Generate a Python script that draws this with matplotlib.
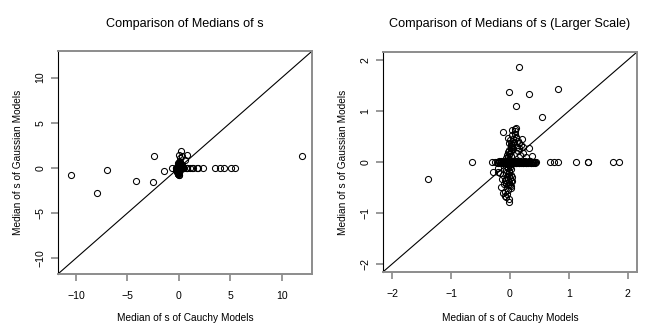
import matplotlib
matplotlib.use("Agg")
import matplotlib.pyplot as plt

plt.rcParams['font.family'] = ['Liberation Sans', 'DejaVu Sans']

# outlying models (median of s: cauchy vs gaussian)
out_cauchy = [-10.5, -7.95, -7.0, -4.15, -2.45, -2.5, -1.4, -0.65, -0.31, -0.26, 12.0,
              5.45, 5.1, 4.4, 3.95, 3.55, 2.35, 1.85, 1.76, 1.33, 1.32, 1.12, 0.82, 0.75, 0.68,
              0.16, -0.02, 0.32, 0.81, 0.10, 0.55]
out_gauss = [-0.81, -2.8, -0.22, -1.4, 1.37, -1.52, -0.33, 0.0, 0.0, 0.0, 1.35,
             0.0, 0.0, 0.0, 0.0, 0.0, 0.0, 0.01, 0.01, 0.0, 0.01, 0.0, 0.0, 0.0, 0.0,
             1.87, 1.38, 1.33, 1.43, 1.10, 0.88]

# scattered models near the centre, upper part
up_cauchy = [-0.11, 0.09, 0.10, -0.04, 0.06, 0.11, 0.20, 0.03, 0.16, 0.23, 0.32, 0.37,
             0.23, 0.17, 0.43, 0.07, 0.12, 0.02, 0.14, 0.28, 0.05, 0.09, 0.00, 0.04,
             0.08, 0.13, 0.06, 0.10, 0.15, -0.02, 0.19, 0.04]
up_gauss = [0.58, 0.65, 0.66, 0.48, 0.46, 0.48, 0.45, 0.53, 0.37, 0.30, 0.28, 0.12,
            0.18, 0.13, 0.01, 0.40, 0.30, 0.35, 0.22, 0.10, 0.25, 0.55, 0.43, 0.33,
            0.60, 0.42, 0.38, 0.50, 0.27, 0.38, 0.33, 0.62]

# scattered models near the centre, lower part
lo_cauchy = [-0.28, -0.21, -0.20, -0.15, -0.11, -0.09, -0.06, -0.02, -0.01, -0.04,
             -0.09, -0.13, 0.00, 0.03, -0.17, -0.07, 0.02, -0.05, -0.12, 0.04,
             -0.08, 0.01, -0.10]
lo_gauss = [-0.19, -0.19, -0.12, -0.50, -0.61, -0.66, -0.68, -0.73, -0.78, -0.55,
            -0.35, -0.34, -0.45, -0.30, -0.22, -0.42, -0.52, -0.62, -0.25, -0.38,
            -0.58, -0.48, -0.44]

# models with gaussian median close to zero
h_cauchy = [-0.22, -0.20, -0.18, -0.16, -0.14, -0.12, -0.10, -0.08, -0.06, -0.05,
            -0.04, -0.03, -0.02, -0.01, 0.00, 0.01, 0.02, 0.03, 0.04, 0.05,
            0.06, 0.08, 0.10, 0.12, 0.14, 0.16, 0.18, 0.20, 0.22, 0.24,
            0.26, 0.28, 0.30, 0.32, 0.34, 0.36, 0.38, 0.40, 0.42, 0.44,
            -0.21, -0.19, -0.17, -0.15, -0.13, -0.11, -0.09, -0.07, 0.07, 0.09,
            0.11, 0.13, 0.15, 0.17, 0.19, 0.21, 0.23, 0.25, 0.27, 0.29,
            0.31, 0.33, 0.35, 0.37, 0.39, 0.41]
h_gauss = [0.01, -0.01, 0.00, 0.02, -0.02, 0.01, 0.00, -0.01, 0.02, 0.00,
           -0.02, 0.01, 0.03, -0.01, 0.00, 0.02, -0.03, 0.01, 0.00, -0.02,
           0.01, 0.00, -0.01, 0.02, 0.00, -0.02, 0.01, 0.00, -0.01, 0.02,
           0.00, -0.01, 0.01, 0.00, 0.02, -0.01, 0.00, 0.01, -0.01, 0.00,
           -0.02, 0.02, -0.01, 0.01, -0.02, 0.02, -0.01, 0.01, -0.02, 0.02,
           -0.01, 0.01, -0.02, 0.02, -0.01, 0.01, -0.02, 0.02, -0.01, 0.01,
           -0.02, 0.02, -0.01, 0.01, -0.02, 0.01]

# models with cauchy median close to zero
v_cauchy = [-0.03, -0.01, -0.06, -0.02, 0.01, -0.07, -0.03, 0.00, -0.05, -0.02,
            0.02, -0.04, -0.07, -0.01, -0.02, -0.06, 0.01, -0.03, 0.00, -0.07,
            -0.02, -0.05, 0.02, -0.04, -0.01, -0.02, -0.06, -0.03, 0.01, -0.05,
            -0.02, 0.00, -0.03, 0.02, -0.01, 0.03, 0.01, 0.04, 0.02]
v_gauss = [-0.45, -0.43, -0.41, -0.39, -0.37, -0.35, -0.33, -0.31, -0.29, -0.27,
           -0.25, -0.23, -0.21, -0.19, -0.17, -0.15, -0.13, -0.11, -0.09, -0.07,
           -0.05, -0.03, -0.01, 0.01, 0.03, 0.05, 0.07, 0.09, 0.11, 0.13,
           0.15, 0.17, 0.19, 0.21, 0.23, 0.25, 0.27, 0.29, 0.31]

cauchy = out_cauchy + up_cauchy + lo_cauchy + h_cauchy + v_cauchy
gauss = out_gauss + up_gauss + lo_gauss + h_gauss + v_gauss

fig = plt.figure(figsize=(6.5, 3.25), dpi=100)
ax1 = fig.add_axes([0.0892, 0.157, 0.391, 0.686])
ax2 = fig.add_axes([0.589, 0.163, 0.391, 0.677])

panels = [
    (ax1, (-11.75, 12.95), [-10, -5, 0, 5, 10], "Comparison of Medians of s", 0.028),
    (ax2, (-2.16, 2.16), [-2, -1, 0, 1, 2], "Comparison of Medians of s (Larger Scale)", 0.527),
]

for ax, lim, ticks, title, ylab_x in panels:
    ax.plot(cauchy, gauss, 'o', mfc='none', mec='black', ms=4.4, mew=0.75)
    ax.axline((0, 0), slope=1, color='black', lw=0.8)
    ax.set_xlim(lim)
    ax.set_ylim(lim)
    ax.set_xticks(ticks)
    ax.set_yticks(ticks)
    ax.tick_params(colors='#888888', labelcolor='black', length=5, width=1.2,
                   labelsize=7.6)
    ax.tick_params(axis='x', pad=7)
    ax.tick_params(axis='y', labelrotation=90, pad=4)
    for lab in ax.get_yticklabels():
        lab.set_va('center')
    for side in ['top', 'right', 'bottom']:
        ax.spines[side].set_color('#8c8c8c')
        ax.spines[side].set_linewidth(1.4)
    ax.spines['left'].set_color('black')
    ax.spines['left'].set_linewidth(0.8)
    pos = ax.get_position()
    cx = (pos.x0 + pos.x1) / 2
    fig.text(cx, 0.926, title, ha='center', va='center', fontsize=9.1)
    fig.text(cx, 0.022, "Median of s of Cauchy Models", ha='center', va='center', fontsize=7.3)
    fig.text(ylab_x, (pos.y0 + pos.y1) / 2, "Median of s of Gaussian Models",
             ha='center', va='center', rotation=90, fontsize=7.3)

fig.savefig("out.png", dpi=100)
